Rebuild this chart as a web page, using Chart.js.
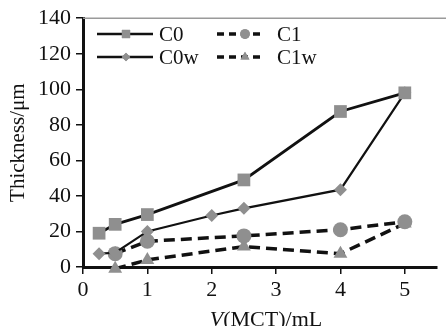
<!DOCTYPE html>
<html>
<head>
<meta charset="utf-8">
<script src="https://cdn.jsdelivr.net/npm/chart.js@4/dist/chart.umd.min.js"></script>
<style>
  html, body { margin: 0; padding: 0; background: #fff; }
  #wrap { width: 446px; height: 326px; }
</style>
</head>
<body>
<div id="wrap"><canvas id="chart"></canvas></div>
<script>
/* ---- data ---- */
const X_C0   = [0.25, 0.5, 1, 2.5, 4, 5];
const Y_C0   = [19, 24, 29.5, 49, 87.5, 98];
const X_C0W  = [0.25, 0.5, 1, 2, 2.5, 4, 5];
const Y_C0W  = [7.5, 8, 20, 29, 33, 43.5, 98];
const X_C1   = [0.5, 1, 2.5, 4, 5];
const Y_C1   = [7.5, 14.5, 17.5, 21, 25.5];
const X_C1W  = [0.5, 1, 2.5, 4, 5];
const Y_C1W  = [-1, 4, 11.5, 7.5, 24.5];

const X_TICKS = [0, 1, 2, 3, 4, 5];
const Y_TICKS = [0, 20, 40, 60, 80, 100, 120, 140];

const MARK = '#8f8f8f';
const FONT = "'Liberation Serif', 'Times New Roman', serif";

const pts = (xs, ys) => xs.map((x, i) => ({ x, y: ys[i] }));

function series(label, xs, ys, shape, radius, dashed, width) {
  return {
    label,
    data: pts(xs, ys),
    borderColor: '#111',
    borderWidth: width,
    borderDash: dashed ? [11, 6] : [],
    pointStyle: shape,
    pointRadius: radius,
    pointBackgroundColor: MARK,
    pointBorderColor: MARK,
    pointBorderWidth: 0,
    showLine: true,
    tension: 0,
    clip: false
  };
}

/* legend drawn inside the plot, two columns */
const innerLegend = {
  id: 'innerLegend',
  afterDatasetsDraw(chart) {
    const ctx = chart.ctx;
    const items = [
      { ds: 0, x: 97,  y: 34 },
      { ds: 2, x: 217, y: 34 },
      { ds: 1, x: 97,  y: 57 },
      { ds: 3, x: 217, y: 57 }
    ];
    ctx.save();
    items.forEach(it => {
      const ds = chart.data.datasets[it.ds];
      const dashed = ds.borderDash.length > 0;
      ctx.strokeStyle = ds.borderColor;
      ctx.lineWidth = dashed ? 3.5 : 2.5;
      ctx.setLineDash(dashed ? [7, 5] : []);
      ctx.beginPath();
      ctx.moveTo(it.x, it.y);
      ctx.lineTo(it.x + (dashed ? 46 : 56), it.y);
      ctx.stroke();
      ctx.setLineDash([]);
      ctx.fillStyle = MARK;
      Chart.helpers.drawPoint(ctx, {
        pointStyle: ds.pointStyle, radius: ds.pointRadius * 0.65, borderWidth: 0
      }, it.x + (dashed ? 28 : 29), it.y);
      ctx.fill();
      ctx.fillStyle = '#111';
      ctx.font = '21px ' + FONT;
      ctx.textBaseline = 'middle';
      ctx.fillText(ds.label, it.x + (dashed ? 60 : 62), it.y + 1);
    });
    ctx.restore();
  }
};

/* gray top frame and styled x title */
const extras = {
  id: 'extras',
  beforeDatasetsDraw(chart) {
    const { ctx, chartArea } = chart;
    ctx.save();
    ctx.strokeStyle = '#9a9a9a';
    ctx.lineWidth = 1.5;
    ctx.beginPath();
    ctx.moveTo(chartArea.left, chartArea.top);
    ctx.lineTo(chart.width, chartArea.top);
    ctx.stroke();
    ctx.restore();
  },
  afterDraw(chart) {
    const ctx = chart.ctx;
    ctx.save();
    ctx.fillStyle = '#111';
    ctx.textBaseline = 'alphabetic';
    const a = 'V', b = '(MCT)/mL';
    ctx.font = 'italic 22px ' + FONT;
    const wa = ctx.measureText(a).width;
    ctx.font = '22px ' + FONT;
    const wb = ctx.measureText(b).width;
    const x0 = 266 - (wa + wb) / 2, y0 = 326;
    ctx.font = 'italic 22px ' + FONT;
    ctx.fillText(a, x0, y0);
    ctx.font = '22px ' + FONT;
    ctx.fillText(b, x0 + wa, y0);
    ctx.restore();
  }
};

new Chart(document.getElementById('chart'), {
  type: 'scatter',
  data: {
    datasets: [
      series('C0',  X_C0,  Y_C0,  'rect',     9, false, 2.8),
      series('C0w', X_C0W, Y_C0W, 'rectRot',  6.5, false, 2.2),
      series('C1',  X_C1,  Y_C1,  'circle',   7.5, true, 3.5),
      series('C1w', X_C1W, Y_C1W, 'triangle', 8, true, 3.5)
    ]
  },
  plugins: [innerLegend, extras],
  options: {
    responsive: true,
    maintainAspectRatio: false,
    animation: false,
    layout: { padding: { top: 18, right: 0, bottom: 0, left: 0 } },
    plugins: {
      legend: { display: false },
      tooltip: { enabled: false }
    },
    scales: {
      x: {
        type: 'linear',
        min: 0, max: 5.5,
        afterBuildTicks: s => { s.ticks = X_TICKS.map(v => ({ value: v })); },
        afterFit: s => { s.height = 59; },
        ticks: { color: '#111', font: { family: FONT, size: 22 }, padding: 3, maxRotation: 0 },
        grid: { drawOnChartArea: false, drawTicks: true, tickLength: 7, color: '#111', lineWidth: 1.5 },
        border: { display: true, color: '#111', width: 3 }
      },
      y: {
        min: 0, max: 140,
        afterBuildTicks: s => { s.ticks = Y_TICKS.map(v => ({ value: v })); },
        afterFit: s => { s.width = 83; },
        ticks: { color: '#111', font: { family: FONT, size: 22 }, padding: 5 },
        grid: { drawOnChartArea: false, drawTicks: true, tickLength: 7, color: '#111', lineWidth: 1.5 },
        border: { display: true, color: '#111', width: 3 },
        title: { display: true, text: 'Thickness/μm', color: '#111', font: { family: FONT, size: 21 }, padding: { top: 6, bottom: 0 } }
      }
    }
  }
});
</script>
</body>
</html>
